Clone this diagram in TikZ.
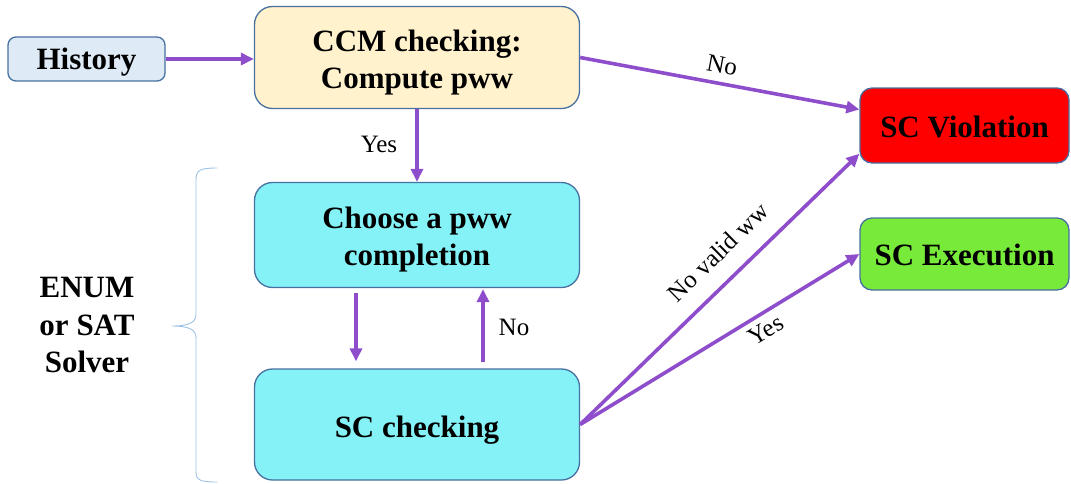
\documentclass[tikz,border=0pt]{standalone}
\usepackage{fontspec}
\setmainfont{Liberation Serif}[BoldFont={Liberation Serif Bold}, ItalicFont={Liberation Serif Italic}]
\usetikzlibrary{arrows.meta,calc}
\definecolor{arrowc}{RGB}{142,78,204}
\definecolor{edgec}{RGB}{72,112,160}
\definecolor{histc}{RGB}{222,235,247}
\definecolor{ccmc}{RGB}{255,242,204}
\definecolor{cyanc}{RGB}{132,242,246}
\definecolor{redc}{RGB}{255,0,0}
\definecolor{greenc}{RGB}{120,234,58}
\definecolor{bracec}{RGB}{157,195,230}
\tikzset{
  box/.style={draw=edgec, line width=1.3pt, rounded corners=18pt, inner sep=0pt},
  btext/.style={align=center, font=\fontsize{31}{37}\selectfont\bfseries, inner sep=0pt},
  lab/.style={font=\fontsize{25}{29}\selectfont, inner sep=1pt},
  arr/.style={draw=arrowc, line width=3.6pt, -{Triangle[length=13pt,width=12pt]}},
}
\begin{document}
\begin{tikzpicture}[x=1pt,y=-1pt]
\useasboundingbox (0,0) rectangle (1071,483);
\node[box, fill=histc, rounded corners=8pt, minimum width=157pt, minimum height=44pt] (hist) at (86.5,59) {};
\node[btext] (histt) at ([yshift=-3pt]hist.center) {History};
\node[box, fill=ccmc, minimum width=325pt, minimum height=102pt] (ccm) at (417,57.5) {};
\node[btext] (ccmt) at ([yshift=-5pt]ccm.center) {CCM checking:\\Compute pww};
\node[box, fill=cyanc, minimum width=325pt, minimum height=105pt] (choose) at (417,235) {};
\node[btext] (chooset) at ([yshift=-5pt]choose.center) {Choose a pww\\completion};
\node[box, fill=cyanc, minimum width=325pt, minimum height=111pt] (scc) at (417,424.5) {};
\node[btext] (scct) at ([yshift=-6pt]scc.center) {SC checking};
\node[box, fill=redc, rounded corners=12pt, minimum width=209pt, minimum height=75pt] (viol) at (964.5,125.5) {};
\node[btext] (violt) at ([yshift=-1pt]viol.center) {SC Violation};
\node[box, fill=greenc, rounded corners=12pt, minimum width=209pt, minimum height=72pt] (exec) at (964.5,254) {};
\node[btext] (exect) at ([yshift=-1pt]exec.center) {SC Execution};
\node[btext, font=\fontsize{31}{37.5}\selectfont\bfseries] (enum) at (87,325) {ENUM\\or SAT\\Solver};
% brace
\draw[bracec, line width=0.9pt] (217,168) .. controls (200,168) and (196,170) .. (196,180)
  -- (196,314) .. controls (196,322) and (190,326) .. (172,326)
  .. controls (190,326) and (196,330) .. (196,338)
  -- (196,472) .. controls (196,480) and (200,482) .. (217,482);
% connectors
\draw[arr] (hist.east) -- (ccm.west |- hist.east);
\draw[arr] (ccm.south) -- (choose.north);
\node[lab] (yes1) at (379,144) {Yes};
\coordinate (vin1) at ($(viol.north west)!0.29!(viol.south west)$);
\draw[arr] (ccm.east) -- (vin1);
\node[lab, rotate=-10.6] (no1) at (722,65) {No};
\draw[arr] ([xshift=-61pt,yshift=-5pt]choose.south) -- ([xshift=-61pt,yshift=7pt]scc.north);
\draw[arr] ([xshift=66pt,yshift=6pt]scc.north) -- ([xshift=66pt,yshift=-1pt]choose.south);
\node[lab] (no2) at (514,327) {No};
\coordinate (vin2) at ($(viol.south west)!0.13!(viol.north west)$);
\draw[arr] (scc.east) -- (vin2);
\draw[arr] (scc.east) -- (exec.west);
\node[lab, rotate=44.4] (nvw) at (718,252) {No valid ww};
\node[lab, rotate=31.4] (yes2) at (766,330) {Yes};
\end{tikzpicture}
\end{document}
